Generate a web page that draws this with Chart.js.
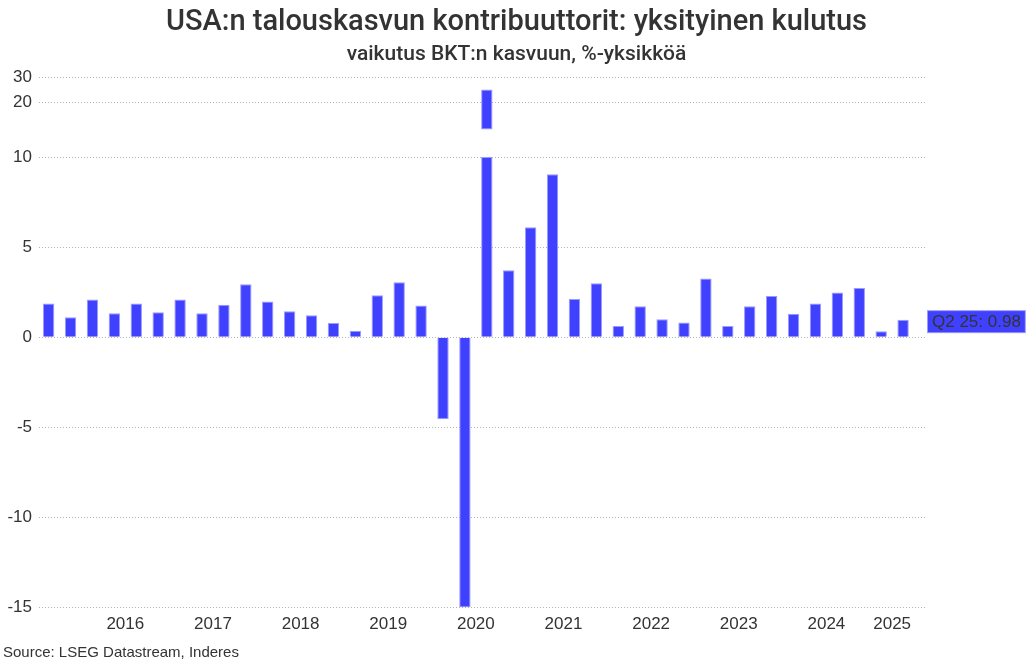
<!DOCTYPE html>
<html><head><meta charset="utf-8">
<script src="https://cdn.jsdelivr.net/npm/chart.js@4"></script>
<style>html,body{margin:0;padding:0;background:#fff}#wrap{width:1033px;height:663px;position:relative}</style>
</head><body><div id="wrap"><canvas id="c"></canvas></div>
<script>
// ---------- DATA ----------
const quarters = ['Q3 15','Q4 15',
  'Q1 16','Q2 16','Q3 16','Q4 16',
  'Q1 17','Q2 17','Q3 17','Q4 17',
  'Q1 18','Q2 18','Q3 18','Q4 18',
  'Q1 19','Q2 19','Q3 19','Q4 19',
  'Q1 20','Q2 20','Q3 20','Q4 20',
  'Q1 21','Q2 21','Q3 21','Q4 21',
  'Q1 22','Q2 22','Q3 22','Q4 22',
  'Q1 23','Q2 23','Q3 23','Q4 23',
  'Q1 24','Q2 24','Q3 24','Q4 24',
  'Q1 25','Q2 25'];
const contribution = [1.87, 1.11,
  2.10, 1.33, 1.87, 1.39,
  2.10, 1.33, 1.81, 2.95,
  1.98, 1.44, 1.22, 0.80,
  0.37, 2.33, 3.05, 1.76,
  -4.55, -15.0, 25.0, 3.72,
  6.10, 9.05, 2.12, 3.00,
  0.63, 1.72, 1.00, 0.82,
  3.26, 0.63, 1.72, 2.29,
  1.30, 1.88, 2.49, 2.73,
  0.34, 0.98];
const yearLabels = ['2016','2017','2018','2019','2020','2021','2022','2023','2024','2025'];
const yTickValues = [30, 20, 10, 5, 0, -5, -10, -15];
const axisBreak = [10, 15]; // value range hidden by the axis break

// ---------- SCALE (piecewise / broken y axis) ----------
const knotValues = [-15, 10, 20, 30];
const knotFractions = [0, 450/530, 505/530, 1];
function valueToDecimal(v){
  let k = 0;
  if (v <= knotValues[0]) k = 0;
  else if (v >= knotValues[knotValues.length-1]) k = knotValues.length-2;
  else { while (v > knotValues[k+1]) k++; }
  const t = (v - knotValues[k]) / (knotValues[k+1] - knotValues[k]);
  return knotFractions[k] + t * (knotFractions[k+1] - knotFractions[k]);
}
function decimalToValue(d){
  let k = 0;
  if (d <= knotFractions[0]) k = 0;
  else if (d >= knotFractions[knotFractions.length-1]) k = knotFractions.length-2;
  else { while (d > knotFractions[k+1]) k++; }
  const t = (d - knotFractions[k]) / (knotFractions[k+1] - knotFractions[k]);
  return knotValues[k] + t * (knotValues[k+1] - knotValues[k]);
}
class BrokenLinearScale extends Chart.LinearScale {
  getPixelForValue(value){
    if (value === null || value === undefined || isNaN(value)) return NaN;
    return this.getPixelForDecimal(valueToDecimal(value));
  }
  getValueForPixel(pixel){ return decimalToValue(this.getDecimalForPixel(pixel)); }
}
BrokenLinearScale.id = 'brokenLinear';
BrokenLinearScale.defaults = Chart.LinearScale.defaults;
Chart.register(BrokenLinearScale);

// ---------- derived datasets ----------
const lowerPart = contribution.map((v,i) => ({x:i, y: v > axisBreak[0] ? [0, axisBreak[0]] : v}));
const upperPart = contribution.map((v,i) => v > axisBreak[0] ? ({x:i, y:[axisBreak[1], v]}) : null).filter(Boolean);
const yearTickPositions = yearLabels.map(yr => {
  const idx = quarters.map((q,i)=>q.endsWith(yr.slice(2)) ? i : -1).filter(i=>i>=0);
  return idx.reduce((a,b)=>a+b,0)/idx.length;
});

const BAR = '#4040ff', BAR_EDGE = '#9a9aff', TEXT = '#333333';
const tickFont = {family:'"Liberation Sans", Arial, sans-serif', size:17};

const lastLabel = {
  id:'lastLabel',
  afterDraw(chart){
    const ctx = chart.ctx, ys = chart.scales.y, area = chart.chartArea;
    const i = contribution.length - 1;
    const text = quarters[i] + ': ' + contribution[i].toFixed(2);
    ctx.save();
    ctx.font = '17px "Liberation Sans", Arial, sans-serif';
    const w = ctx.measureText(text).width + 10, h = 23;
    const x0 = area.right + 2, cy = ys.getPixelForValue(contribution[i]) + 2;
    ctx.fillStyle = BAR_EDGE; ctx.fillRect(x0, cy - h/2, w, h);
    ctx.fillStyle = BAR; ctx.fillRect(x0+1, cy - h/2 + 1, w-2, h-2);
    ctx.fillStyle = TEXT; ctx.textBaseline = 'middle'; ctx.textAlign = 'left';
    ctx.fillText(text, x0 + 5, cy + 1);
    ctx.restore();
  }
};
const sourceNote = {
  id:'sourceNote',
  afterDraw(chart){
    const ctx = chart.ctx;
    ctx.save();
    ctx.font = '15px "Liberation Sans", Arial, sans-serif';
    ctx.fillStyle = TEXT; ctx.textBaseline = 'middle'; ctx.textAlign = 'left';
    ctx.fillText('Source: LSEG Datastream, Inderes', 3, chart.height - 10);
    ctx.restore();
  }
};

new Chart(document.getElementById('c'), {
  type:'bar',
  data:{ datasets:[
    {data: lowerPart, backgroundColor: BAR, borderColor: BAR_EDGE, borderWidth: 1, grouped:false,
     barPercentage:0.52, categoryPercentage:1},
    {data: upperPart, backgroundColor: BAR, borderColor: BAR_EDGE, borderWidth: 1, grouped:false,
     barPercentage:0.52, categoryPercentage:1, borderSkipped:false}
  ]},
  options:{
    responsive:true, maintainAspectRatio:false, devicePixelRatio:1, animation:false,
    layout:{padding:{left:0, right:0, top:0, bottom:21}},
    plugins:{
      legend:{display:false}, tooltip:{enabled:false},
      title:{display:true, text:'USA:n talouskasvun kontribuuttorit: yksityinen kulutus', color:TEXT,
        font:{family:'Roboto, sans-serif', size:29, weight:'500'}, padding:{top:5, bottom:0}},
      subtitle:{display:true, text:'vaikutus BKT:n kasvuun, %-yksikköä', color:TEXT,
        font:{family:'Roboto, sans-serif', size:21, weight:'500'}, padding:{top:2, bottom:10}}
    },
    scales:{
      x:{type:'linear', min:-0.44, max:40, offset:false,
        grid:{display:false, drawTicks:false}, border:{display:false},
        afterBuildTicks(s){ s.ticks = yearTickPositions.map(p=>({value:p})); },
        ticks:{autoSkip:false, maxRotation:0, padding:7, color:TEXT, font:tickFont,
          callback:(v,i)=>yearLabels[i]}
      },
      y:{type:'brokenLinear', min:-15, max:30,
        grid:{color:'#b4b4b4', drawTicks:false, lineWidth:1},
        border:{display:false, dash:[1,2]},
        afterBuildTicks(s){ s.ticks = yTickValues.map(v=>({value:v})); },
        afterFit(s){ s.width = 39; },
        ticks:{autoSkip:false, padding:7, color:TEXT, font:tickFont, callback:(v)=>String(v)}
      },
      yr:{type:'linear', position:'right', display:true,
        grid:{display:false, drawTicks:false}, border:{display:false},
        ticks:{display:false},
        afterFit(s){ s.width = 108; }
      }
    }
  },
  plugins:[lastLabel, sourceNote]
});
</script></body></html>
